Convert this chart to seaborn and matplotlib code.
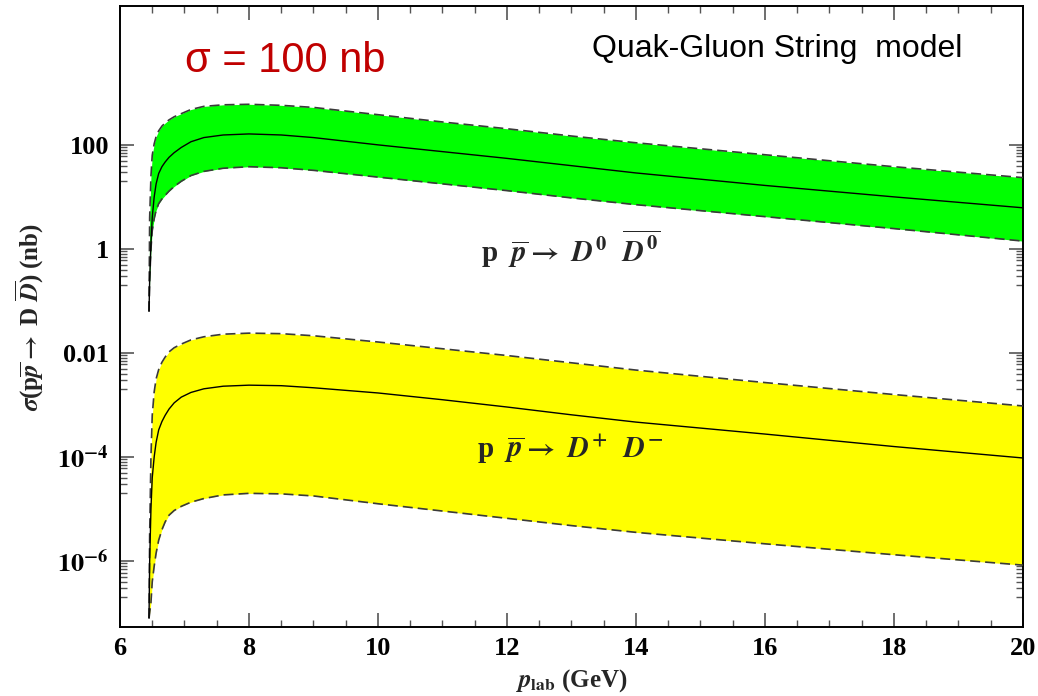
import numpy as np
import pandas as pd
import matplotlib
matplotlib.use("Agg")
import matplotlib.pyplot as plt
import seaborn as sns
from matplotlib.ticker import FixedLocator, FixedFormatter, MultipleLocator, NullFormatter

# ---- data (log10 of sigma in nb) ----
p_lab = [6.45, 6.46, 6.48, 6.50, 6.53, 6.56, 6.60, 6.65, 6.70, 6.76, 6.84, 6.95, 7.10, 7.30, 7.60,
         8.00, 8.50, 9.00, 10.0, 11.0, 12.0, 13.0, 14.0, 16.0, 18.0, 20.0]

d0_upper_log10 = [-1.2, 0.6, 1.4, 1.8, 2.02, 2.16, 2.27, 2.36, 2.42, 2.48, 2.54, 2.6, 2.68, 2.74, 2.77,
                  2.78, 2.76, 2.72, 2.58, 2.44, 2.31, 2.17, 2.04, 1.81, 1.58, 1.37]
d0_center_log10 = [-1.2, -0.6, 0.1, 0.6, 1.0, 1.25, 1.45, 1.58, 1.67, 1.76, 1.85, 1.95, 2.06, 2.14, 2.19,
                   2.21, 2.19, 2.14, 2.0, 1.87, 1.74, 1.60, 1.46, 1.22, 1.0, 0.79]
d0_lower_log10 = [-1.2, -0.6, 0.0, 0.35, 0.58, 0.74, 0.87, 0.96, 1.03, 1.11, 1.20, 1.30, 1.41, 1.49, 1.55,
                  1.58, 1.56, 1.51, 1.38, 1.25, 1.12, 0.98, 0.85, 0.62, 0.39, 0.15]

dpm_upper_log10 = [-7.1, -5.5, -4.0, -3.2, -2.75, -2.5, -2.32, -2.18, -2.08, -1.98, -1.9, -1.83, -1.75, -1.69, -1.64,
                   -1.62, -1.63, -1.67, -1.79, -1.92, -2.05, -2.19, -2.33, -2.57, -2.80, -3.02]
dpm_center_log10 = [-7.1, -6.0, -5.0, -4.4, -4.0, -3.72, -3.48, -3.32, -3.2, -3.08, -2.96, -2.85, -2.76, -2.69, -2.64,
                    -2.62, -2.63, -2.67, -2.77, -2.90, -3.04, -3.19, -3.33, -3.56, -3.80, -4.02]
dpm_lower_log10 = [-7.1, -7.0, -6.8, -6.4, -6.1, -5.85, -5.6, -5.4, -5.25, -5.12, -5.03, -4.95, -4.87, -4.80, -4.73,
                   -4.70, -4.71, -4.75, -4.90, -5.04, -5.18, -5.32, -5.45, -5.67, -5.88, -6.08]

x_major = [6, 8, 10, 12, 14, 16, 18, 20]
y_major = [1e-6, 1e-4, 1e-2, 1, 100]
y_major_labels = [r"$\mathbf{10^{-6}}$", r"$\mathbf{10^{-4}}$", "0.01", "1", "100"]

label_d0 = r"p  $\overline{p}\rightarrow\ D^0\ \ \overline{D^0}$"
label_dpm = r"p  $\overline{p}\rightarrow\ D^{+}\ \ D^{-}$"

# ---- build table ----
rows = []
for band, curves in (("d0", (d0_upper_log10, d0_center_log10, d0_lower_log10)),
                     ("dpm", (dpm_upper_log10, dpm_center_log10, dpm_lower_log10))):
    for name, vals in zip(("upper", "center", "lower"), curves):
        for p, v in zip(p_lab, vals):
            rows.append({"p": p, "sigma": 10.0 ** v, "band": band, "curve": name})
df = pd.DataFrame(rows)

sns.set_theme(style="ticks")
plt.rcParams["font.family"] = ["Liberation Serif", "DejaVu Serif"]
plt.rcParams["font.weight"] = "bold"
plt.rcParams["mathtext.fontset"] = "stix"

fig = plt.figure(figsize=(10.38, 6.96), dpi=100)
ax = fig.add_axes([0.1156, 0.0991, 0.8699, 0.8923])
ax.set_yscale("log")

band_colors = {"d0": "#00ff00", "dpm": "#ffff00"}
for band in ("d0", "dpm"):
    sub = df[df.band == band]
    up = sub[sub.curve == "upper"]
    lo = sub[sub.curve == "lower"]
    ax.fill_between(up["p"].values, lo["sigma"].values, up["sigma"].values,
                    color=band_colors[band], lw=0, zorder=1)
    for name in ("upper", "lower"):
        s = sub[sub.curve == name]
        sns.lineplot(data=s, x="p", y="sigma", ax=ax, color="#3a3a3a", lw=1.2,
                     linestyle=(0, (6, 3)), estimator=None, sort=False, zorder=3)
    s = sub[sub.curve == "center"]
    sns.lineplot(data=s, x="p", y="sigma", ax=ax, color="black", lw=1.0,
                 estimator=None, sort=False, zorder=3)

ax.set_xlim(6, 20)
ax.set_ylim(10 ** -7.27, 10 ** 4.67)

ax.xaxis.set_major_locator(FixedLocator(x_major))
ax.xaxis.set_minor_locator(MultipleLocator(0.5))
ax.yaxis.set_major_locator(FixedLocator(y_major))
ax.yaxis.set_major_formatter(FixedFormatter(y_major_labels))
ax.yaxis.set_minor_locator(FixedLocator([m * k / 10 for m in y_major for k in range(2, 10)]))
ax.yaxis.set_minor_formatter(NullFormatter())

ax.tick_params(which="both", direction="in", top=True, right=True, colors="#555555",
               labelcolor="black", labelsize=19)
ax.tick_params(which="major", length=10, width=1.2)
ax.tick_params(which="minor", length=5, width=1.0)
ax.tick_params(axis="x", pad=7)
ax.tick_params(axis="y", pad=8)

for sp in ax.spines.values():
    sp.set_color("black")
    sp.set_linewidth(1.4)

ax.set_xlabel(r"$p_{\mathbf{lab}}$ (GeV)", fontsize=18, fontweight="bold", labelpad=5)
ax.set_ylabel(r"$\sigma$(p$\overline{p}\rightarrow$ D $\overline{D}$) (nb)",
              fontsize=18, fontweight="bold", labelpad=8)

ax.text(12.98, 1.0, label_d0, ha="center", va="center", fontsize=21, fontweight="bold", zorder=5)
ax.text(12.98, 10 ** -3.85, label_dpm, ha="center", va="center", fontsize=21, fontweight="bold", zorder=5)

ax.text(0.072, 0.912, "σ = 100 nb", transform=ax.transAxes, ha="left", va="center",
        fontsize=30, color="#c00000", family=["Liberation Sans", "DejaVu Sans"],
        fontweight="normal")
ax.text(0.728, 0.931, "Quak-Gluon String  model", transform=ax.transAxes, ha="center",
        va="center", fontsize=23, color="black", family=["Liberation Sans", "DejaVu Sans"],
        fontweight="normal")

fig.savefig("out.png", dpi=100, facecolor="white")
